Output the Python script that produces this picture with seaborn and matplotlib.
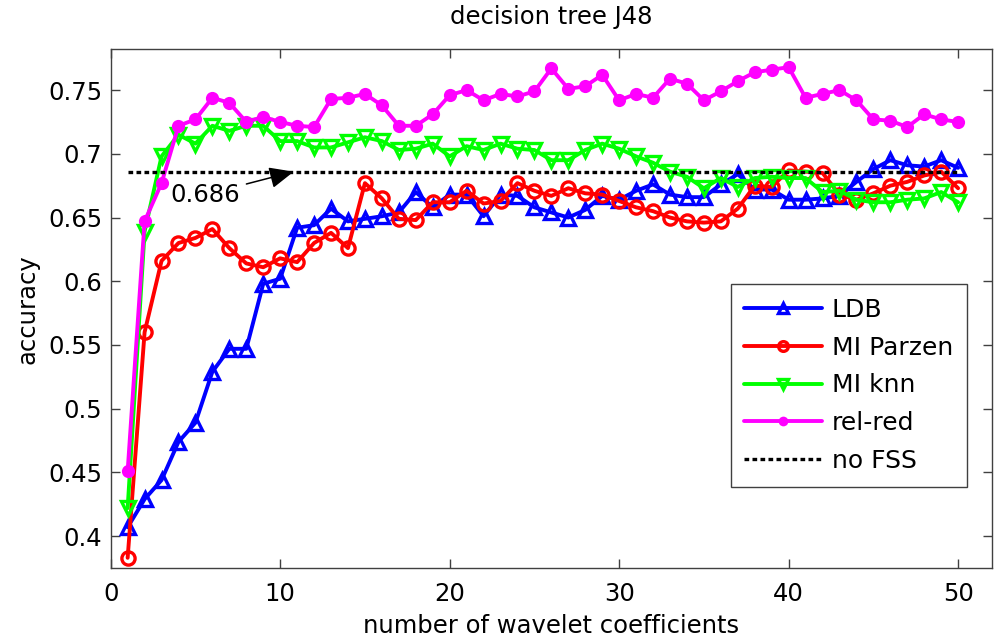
import numpy as np
import pandas as pd
import matplotlib
matplotlib.use('Agg')
import matplotlib.pyplot as plt
import seaborn as sns

###############################################################
# values
n_coeffs = list(range(1, 51))

ldb = [0.407, 0.429, 0.444, 0.474, 0.489, 0.529, 0.547, 0.547, 0.598, 0.602,
       0.642, 0.644, 0.657, 0.647, 0.649, 0.651, 0.654, 0.670, 0.658, 0.668,
       0.668, 0.651, 0.668, 0.667, 0.658, 0.654, 0.650, 0.656, 0.667, 0.664,
       0.671, 0.676, 0.668, 0.666, 0.666, 0.676, 0.684, 0.672, 0.672, 0.664,
       0.664, 0.665, 0.667, 0.678, 0.688, 0.695, 0.691, 0.690, 0.695, 0.689]

mi_parzen = [0.383, 0.560, 0.616, 0.630, 0.634, 0.641, 0.626, 0.614, 0.611, 0.618,
             0.615, 0.630, 0.638, 0.626, 0.677, 0.665, 0.649, 0.648, 0.662, 0.662,
             0.671, 0.661, 0.663, 0.677, 0.671, 0.667, 0.673, 0.669, 0.668, 0.663,
             0.658, 0.655, 0.650, 0.647, 0.646, 0.647, 0.657, 0.675, 0.674, 0.687,
             0.686, 0.685, 0.668, 0.664, 0.669, 0.675, 0.678, 0.683, 0.686, 0.673]

mi_knn = [0.422, 0.639, 0.698, 0.715, 0.708, 0.722, 0.718, 0.722, 0.722, 0.710,
          0.710, 0.705, 0.705, 0.709, 0.713, 0.710, 0.703, 0.704, 0.708, 0.698,
          0.706, 0.703, 0.708, 0.704, 0.703, 0.695, 0.695, 0.703, 0.708, 0.704,
          0.698, 0.693, 0.686, 0.682, 0.673, 0.681, 0.674, 0.681, 0.682, 0.681,
          0.681, 0.670, 0.671, 0.664, 0.662, 0.662, 0.664, 0.665, 0.670, 0.662]

rel_red = [0.451, 0.647, 0.677, 0.722, 0.727, 0.744, 0.740, 0.725, 0.729, 0.725,
           0.722, 0.721, 0.743, 0.744, 0.747, 0.738, 0.722, 0.722, 0.731, 0.746,
           0.750, 0.742, 0.747, 0.745, 0.749, 0.767, 0.751, 0.753, 0.762, 0.742,
           0.747, 0.744, 0.759, 0.755, 0.742, 0.749, 0.757, 0.764, 0.766, 0.768,
           0.744, 0.747, 0.750, 0.742, 0.727, 0.726, 0.721, 0.731, 0.727, 0.725]

no_fss = 0.686

y_ticks = [0.4, 0.45, 0.5, 0.55, 0.6, 0.65, 0.7, 0.75]
y_tick_labels = ['0.4', '0.45', '0.5', '0.55', '0.6', '0.65', '0.7', '0.75']
x_ticks = [0, 10, 20, 30, 40, 50]

###############################################################
sns.set_theme(style='white', rc={'text.color': 'black', 'axes.labelcolor': 'black',
                                 'xtick.color': 'black', 'ytick.color': 'black'})
plt.rcParams['font.family'] = ['DejaVu Sans']
FS = 17.5

df = pd.DataFrame({'k': n_coeffs, 'LDB': ldb, 'MI Parzen': mi_parzen,
                   'MI knn': mi_knn, 'rel-red': rel_red,
                   'no FSS': [no_fss] * len(n_coeffs)})

fig = plt.figure(figsize=(10, 6.38), dpi=100)
ax = fig.add_axes([0.1107, 0.1097, 0.8813, 0.813])

LW = 2.8
sns.lineplot(data=df, x='k', y='LDB', color=(0, 0, 1), linewidth=LW, marker='^',
             markersize=10, markerfacecolor='none', markeredgewidth=2.4,
             markeredgecolor=(0, 0, 1), label='LDB', ax=ax)
sns.lineplot(data=df, x='k', y='MI Parzen', color=(1, 0, 0), linewidth=LW, marker='o',
             markersize=9.5, markerfacecolor='none', markeredgewidth=2.4,
             markeredgecolor=(1, 0, 0), label='MI Parzen', ax=ax)
sns.lineplot(data=df, x='k', y='MI knn', color=(0, 1, 0), linewidth=LW, marker='v',
             markersize=10, markerfacecolor='none', markeredgewidth=2.4,
             markeredgecolor=(0, 1, 0), label='MI knn', ax=ax)
sns.lineplot(data=df, x='k', y='rel-red', color=(1, 0, 1), linewidth=LW, marker='o',
             markersize=9.5, markerfacecolor=(1, 0, 1), markeredgewidth=0,
             label='rel-red', ax=ax)
sns.lineplot(data=df, x='k', y='no FSS', color='black', linewidth=2.4,
             linestyle=(0, (1.4, 1.0)), label='no FSS', ax=ax)

ax.annotate('0.686', xy=(10.8, no_fss), xytext=(5.6, 0.668), ha='center', va='center',
            fontsize=FS, arrowprops=dict(arrowstyle='-|>,head_length=0.5,head_width=0.22',
                                         color='black', lw=1.1,
                                         mutation_scale=30, shrinkA=2, shrinkB=0))

ax.set_xlim(0, 52)
ax.set_ylim(0.375, 0.782)
ax.set_xticks(x_ticks)
ax.set_yticks(y_ticks)
ax.set_yticklabels(y_tick_labels)
ax.tick_params(direction='in', length=6.5, width=1, colors='#404040', labelcolor='black',
               labelsize=FS, top=True, right=True, bottom=True, left=True)
ax.tick_params(axis='x', pad=10)
ax.tick_params(axis='y', pad=6)
for s in ax.spines.values():
    s.set_color('#404040')
    s.set_linewidth(1)

ax.set_title('decision tree J48', fontsize=FS, pad=18)
ax.set_xlabel('number of wavelet coefficients', fontsize=FS, labelpad=6)
ax.set_ylabel('accuracy', fontsize=FS, labelpad=6)

leg = ax.legend(loc='upper right', bbox_to_anchor=(0.9716, 0.5475), fontsize=18,
                frameon=True, fancybox=False, edgecolor='#404040', framealpha=1,
                handlelength=3.1, handletextpad=0.4, labelspacing=0.55,
                borderpad=0.55, borderaxespad=0)
leg.get_frame().set_linewidth(1)
for h in leg.legend_handles:
    h.set_markersize(7)

plt.savefig('out.png', dpi=100)
